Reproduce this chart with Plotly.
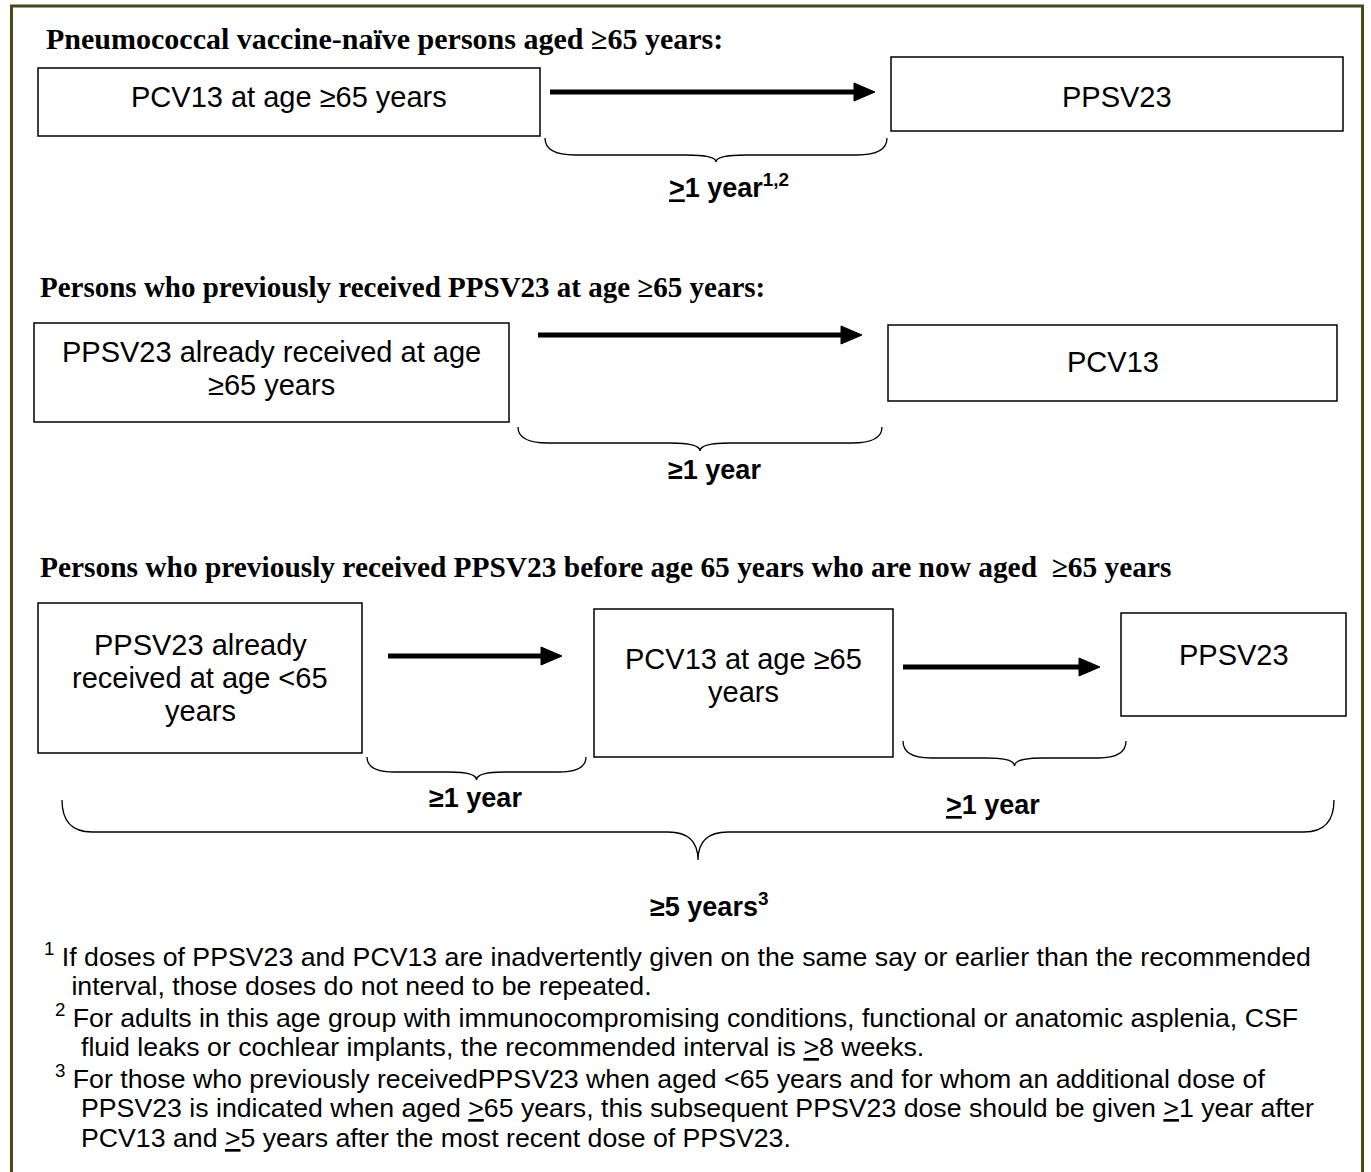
import plotly.graph_objects as go

W, H = 1371, 1172

# ---- text content ----
headings = [
    "Pneumococcal vaccine-naïve persons aged ≥65 years:",
    "Persons who previously received PPSV23 at age ≥65 years:",
    "Persons who previously received PPSV23 before age 65 years who are now aged  ≥65 years",
]
box_lines = [
    ["PCV13 at age ≥65 years"],
    ["PPSV23"],
    ["PPSV23 already received at age", "≥65 years"],
    ["PCV13"],
    ["PPSV23 already", "received at age <65", "years"],
    ["PCV13 at age ≥65", "years"],
    ["PPSV23"],
]
interval_labels = [
    "<u>></u>1 year<sup>1,2</sup>",
    "≥1 year",
    "≥1 year",
    "<u>></u>1 year",
    "≥5 years<sup>3</sup>",
]
footnotes = [
    "<sup>1</sup> If doses of PPSV23 and PCV13 are inadvertently given on the same say or earlier than the recommended",
    " interval, those doses do not need to be repeated.",
    "<sup>2</sup> For adults in this age group with immunocompromising conditions, functional or anatomic asplenia, CSF",
    "fluid leaks or cochlear implants, the recommended interval is <u>></u>8 weeks.",
    "<sup>3</sup> For those who previously receivedPPSV23 when aged <65 years and for whom an additional dose of",
    "PPSV23 is indicated when aged <u>></u>65 years, this subsequent PPSV23 dose should be given <u>></u>1 year after",
    "PCV13 and <u>></u>5 years after the most recent dose of PPSV23.",
]

# ---- layout geometry (pixels) ----
heading_pos = [(44, 38), (38, 287), (38, 567)]
heading_sizes = [30, 29, 29.4]
boxes = [  # x0, y0, x1, y1
    (38, 68, 540, 136),
    (891, 57, 1343, 131),
    (34, 323, 509, 422),
    (888, 325, 1337, 401),
    (38, 603, 362, 753),
    (594, 609, 893, 757),
    (1121, 613, 1346, 716),
]
box_first_line_y = [97, 97, 352, 362, 645, 659, 655]
LINE_GAP = 33
arrows = [  # x_start, x_end, y
    (550, 875, 92),
    (538, 862, 335),
    (388, 562, 656),
    (903, 1100, 667),
]
braces = [  # x1, x2, y_top, y_horizontal, y_tip
    (545, 887, 138, 155, 162),
    (518, 882, 427, 443, 451),
    (367, 586, 757, 772, 780),
    (903, 1126, 741, 758, 766),
    (62, 1334, 800, 832, 860),
]
interval_pos = [(729, 186), (714, 470), (475, 798), (993, 805), (709, 905)]
foot_pos = [(42, 955), (62, 986), (53, 1016), (79, 1047), (53, 1077), (79, 1108), (79, 1138)]

fig = go.Figure()

shapes = []
# outer frame
shapes.append(dict(type="rect", x0=11.5, y0=6, x1=1362.5, y1=1190,
                   line=dict(color="#4B4816", width=3), fillcolor="rgba(0,0,0,0)"))
for (x0, y0, x1, y1) in boxes:
    shapes.append(dict(type="rect", x0=x0, y0=y0, x1=x1, y1=y1,
                       line=dict(color="black", width=1.5), fillcolor="white"))
for (xs, xe, y) in arrows:
    shapes.append(dict(type="line", x0=xs, y0=y, x1=xe - 16, y1=y,
                       line=dict(color="black", width=5)))
    shapes.append(dict(type="path",
                       path=f"M {xe-21},{y-9} L {xe},{y} L {xe-21},{y+9} Z",
                       fillcolor="black", line=dict(color="black", width=1)))


def brace_path(x1, x2, yt, yh, ytip):
    xm = (x1 + x2) / 2
    r = min(30, (x2 - x1) / 8)
    return (f"M {x1},{yt} Q {x1},{yh} {x1 + r},{yh} "
            f"L {xm - r},{yh} Q {xm},{yh} {xm},{ytip} "
            f"Q {xm},{yh} {xm + r},{yh} "
            f"L {x2 - r},{yh} Q {x2},{yh} {x2},{yt}")


for (x1, x2, yt, yh, ytip) in braces:
    shapes.append(dict(type="path", path=brace_path(x1, x2, yt, yh, ytip),
                       line=dict(color="black", width=1.3)))

annotations = []
for txt, (x, y), sz in zip(headings, heading_pos, heading_sizes):
    annotations.append(dict(x=x, y=y, text=f"<b>{txt}</b>", showarrow=False,
                            xanchor="left", yanchor="middle",
                            font=dict(family="Liberation Serif", size=sz, color="black")))
for lines, (x0, y0, x1, y1), ty in zip(box_lines, boxes, box_first_line_y):
    for i, line in enumerate(lines):
        annotations.append(dict(x=(x0 + x1) / 2, y=ty + i * LINE_GAP, text=line,
                                showarrow=False, xanchor="center", yanchor="middle",
                                font=dict(family="Liberation Sans", size=29, color="black")))
for txt, (x, y) in zip(interval_labels, interval_pos):
    annotations.append(dict(x=x, y=y, text=f"<b>{txt}</b>", showarrow=False,
                            xanchor="center", yanchor="middle",
                            font=dict(family="Liberation Sans", size=27, color="black")))
for txt, (x, y) in zip(footnotes, foot_pos):
    annotations.append(dict(x=x, y=y, text=txt, showarrow=False,
                            xanchor="left", yanchor="middle",
                            font=dict(family="Liberation Sans", size=26.7, color="black")))

fig.update_layout(
    width=W, height=H,
    margin=dict(l=0, r=0, t=0, b=0),
    paper_bgcolor="white", plot_bgcolor="white",
    xaxis=dict(range=[0, W], visible=False, fixedrange=True),
    yaxis=dict(range=[H, 0], visible=False, fixedrange=True),
    shapes=shapes, annotations=annotations, showlegend=False,
)
fig.write_html(
    "out.html",
    config={"displayModeBar": False, "staticPlot": True},
    post_script="document.body.style.margin='0';document.body.style.overflow='hidden';",
)
